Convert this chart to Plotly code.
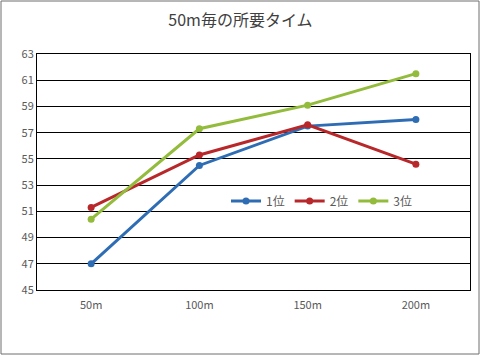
import plotly.graph_objects as go

categories = ["50m", "100m", "150m", "200m"]
first = [47.0, 54.5, 57.5, 58.0]
second = [51.3, 55.3, 57.6, 54.6]
third = [50.4, 57.3, 59.1, 61.5]
series_names = ["1位", "2位", "3位"]
colors = ["#2E6DB4", "#B8282A", "#93BB3C"]

W, H = 481, 356
L, R, T, B = 37, 11, 54, 66

fig = go.Figure()
for name, vals, c in zip(series_names, [first, second, third], colors):
    fig.add_trace(go.Scatter(x=categories, y=vals, name=name, mode="lines+markers",
                             line=dict(color=c, width=3), marker=dict(color=c, size=7)))

pw = W - L - R
ph = H - T - B
def px(x): return (x - L) / pw
def py(y): return (H - B - y) / ph

fig.update_layout(
    width=W, height=H,
    margin=dict(l=L, r=R, t=T, b=B, autoexpand=False),
    paper_bgcolor="white", plot_bgcolor="white",
    font=dict(family="Noto Sans CJK JP", color="#595959", size=11),
    title=dict(text="50m毎の所要タイム", x=0.5, xanchor="center", y=1 - 20 / H, yanchor="middle",
               font=dict(size=16, color="#404040")),
    xaxis=dict(type="category", range=[-0.5, 3.5], showgrid=False, showline=True, mirror=True,
               linecolor="black", linewidth=1, ticks="", automargin=False, ticklabelstandoff=5,
               tickfont=dict(size=11, color="#595959")),
    yaxis=dict(range=[45, 63], dtick=2, tick0=45, showgrid=True, gridcolor="black", gridwidth=1,
               showline=True, mirror=True, linecolor="black", linewidth=1, zeroline=False,
               ticks="", automargin=False, tickfont=dict(size=11, color="#595959")),
    legend=dict(orientation="h", x=px(226), y=py(201), xanchor="left", yanchor="middle",
                bgcolor="rgba(0,0,0,0)", font=dict(size=12, color="#595959"), itemwidth=30),
    showlegend=True,
    shapes=[dict(type="rect", xref="paper", yref="paper", x0=px(1), x1=px(479), y0=py(354), y1=py(1),
                 line=dict(color="#6e6e6e", width=1), layer="below")],
)

fig.write_html("out.html", config={"displayModeBar": False},
               post_script="document.body.style.margin='0';document.body.style.padding='0';")
